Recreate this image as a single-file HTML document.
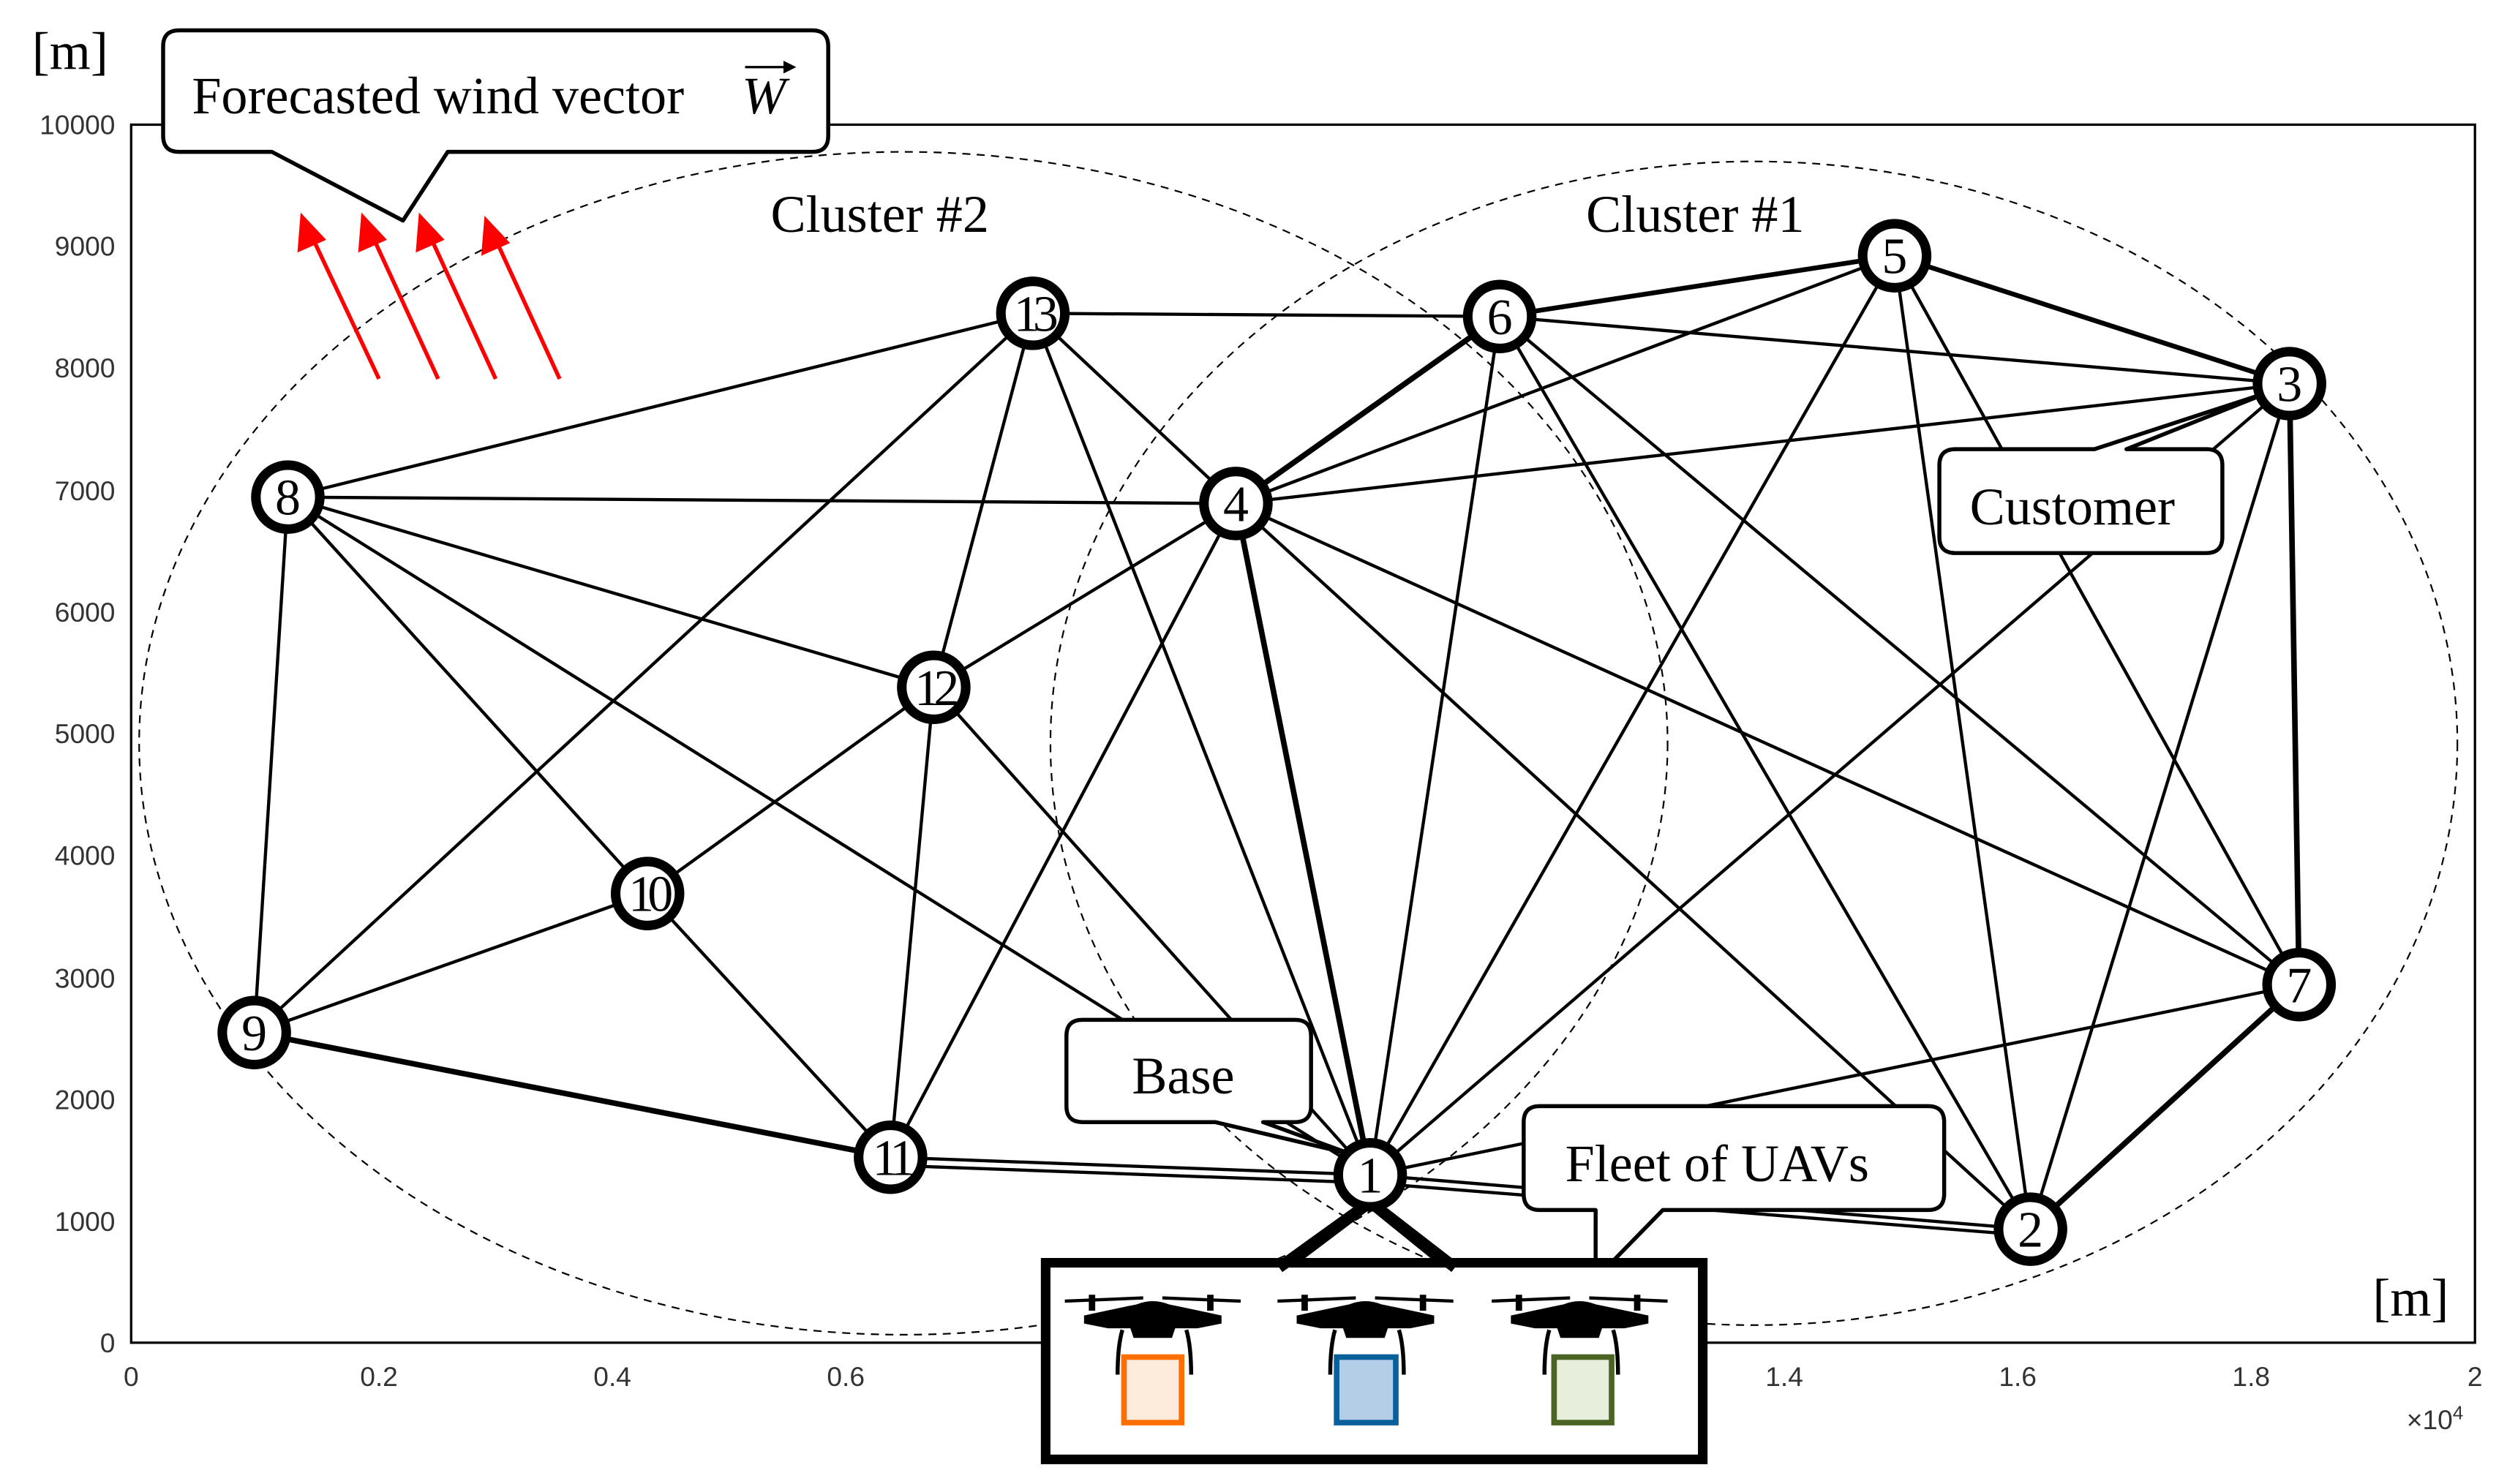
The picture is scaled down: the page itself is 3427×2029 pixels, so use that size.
<!DOCTYPE html>
<html><head><meta charset="utf-8"><style>html,body{margin:0;padding:0;background:#fff}svg{display:block}</style></head><body>
<svg xmlns="http://www.w3.org/2000/svg" width="3427" height="2029" viewBox="0 0 1568 928.4" font-family="'Liberation Serif',serif">
<defs>
<g id="d">
<path d="M-55,-1 L-6,-3 L-6,-1 L-55,1 Z M55,-1 L6,-3 L6,-1 L55,1 Z" fill="#000"/>
<rect x="-40" y="-4" width="4" height="10" fill="#000"/><rect x="34" y="-4" width="4" height="10" fill="#000"/>
<path d="M-43,9 Q-20,4 -10,2 Q0,-2 10,2 Q20,4 43,9 L43,14 L28,17 L14,17 L12,23 L-12,23 L-14,17 L-28,17 L-43,14 Z" fill="#000"/>
<path d="M-19,18 Q-22,28 -22,46 M21,18 Q24,28 24,46" stroke="#000" stroke-width="2.5" fill="none"/>
</g>
</defs>
<rect width="1568" height="929" fill="#fff"/>
<rect x="82" y="78" width="1466" height="762" fill="none" stroke="#000" stroke-width="1.5"/>
<g font-family="'Liberation Sans',sans-serif" font-size="17" fill="#333" text-anchor="end">
<text x="72" y="846">0</text><text x="72" y="770">1000</text><text x="72" y="694">2000</text><text x="72" y="618">3000</text><text x="72" y="541">4000</text><text x="72" y="465">5000</text><text x="72" y="389">6000</text><text x="72" y="313">7000</text><text x="72" y="236">8000</text><text x="72" y="160">9000</text><text x="72" y="84">10000</text>
</g>
<g font-family="'Liberation Sans',sans-serif" font-size="17" fill="#333" text-anchor="middle">
<text x="82" y="867">0</text><text x="237" y="867">0.2</text><text x="383" y="867">0.4</text><text x="529" y="867">0.6</text><text x="1116" y="867">1.4</text><text x="1262" y="867">1.6</text><text x="1408" y="867">1.8</text><text x="1548" y="867">2</text>
<text x="1523" y="894">×10<tspan font-size="12" dy="-6">4</tspan></text>
</g>
<g stroke="#000" stroke-width="1" fill="none" stroke-dasharray="5,4">
<ellipse cx="565" cy="465" rx="478" ry="370"/>
<ellipse cx="1097" cy="465" rx="440" ry="364"/>
</g>
<text x="20" y="43" font-size="33">[m]</text>
<text x="1484" y="823" font-size="33">[m]</text>
<text x="482" y="145" font-size="33">Cluster #2</text>
<text x="992" y="145" font-size="33">Cluster #1</text>
<g stroke="#000" stroke-width="2" fill="none">
<line x1="857" y1="735" x2="773" y2="315" stroke-width="3.5"/>
<line x1="857" y1="735" x2="938" y2="198"/>
<line x1="857" y1="735" x2="1185" y2="160"/>
<line x1="857" y1="735" x2="1432" y2="240"/>
<line x1="857" y1="735" x2="1438" y2="616"/>
<line x1="857" y1="735" x2="1270" y2="769"/>
<line x1="857" y1="740" x2="1270" y2="773"/>
<line x1="857" y1="735" x2="557" y2="724"/>
<line x1="857" y1="740" x2="557" y2="729"/>
<line x1="857" y1="735" x2="646" y2="196"/>
<line x1="857" y1="735" x2="584" y2="430"/>
<line x1="857" y1="735" x2="180" y2="311"/>
<line x1="180" y1="311" x2="646" y2="196"/>
<line x1="180" y1="311" x2="773" y2="315"/>
<line x1="180" y1="311" x2="584" y2="430"/>
<line x1="180" y1="311" x2="405" y2="559"/>
<line x1="180" y1="311" x2="159" y2="646"/>
<line x1="646" y1="196" x2="938" y2="198"/>
<line x1="646" y1="196" x2="773" y2="315"/>
<line x1="646" y1="196" x2="584" y2="430"/>
<line x1="646" y1="196" x2="159" y2="646"/>
<line x1="773" y1="315" x2="938" y2="198" stroke-width="3.5"/>
<line x1="773" y1="315" x2="1185" y2="160"/>
<line x1="773" y1="315" x2="1432" y2="240"/>
<line x1="773" y1="315" x2="584" y2="430"/>
<line x1="773" y1="315" x2="557" y2="724"/>
<line x1="773" y1="315" x2="1438" y2="616"/>
<line x1="773" y1="315" x2="1270" y2="769"/>
<line x1="938" y1="198" x2="1185" y2="160" stroke-width="3"/>
<line x1="938" y1="198" x2="1432" y2="240"/>
<line x1="938" y1="198" x2="1438" y2="616"/>
<line x1="938" y1="198" x2="1270" y2="769"/>
<line x1="1185" y1="160" x2="1432" y2="240" stroke-width="3"/>
<line x1="1185" y1="160" x2="1270" y2="769"/>
<line x1="1185" y1="160" x2="1438" y2="616"/>
<line x1="1432" y1="240" x2="1438" y2="616" stroke-width="3.5"/>
<line x1="1432" y1="240" x2="1270" y2="769"/>
<line x1="1438" y1="616" x2="1270" y2="769" stroke-width="3.5"/>
<line x1="584" y1="430" x2="405" y2="559"/>
<line x1="584" y1="430" x2="557" y2="724"/>
<line x1="405" y1="559" x2="159" y2="646"/>
<line x1="405" y1="559" x2="557" y2="724"/>
<line x1="159" y1="646" x2="557" y2="724" stroke-width="3.5"/>
</g>
<g stroke="#f00" stroke-width="2.5" fill="#f00">
<line x1="237" y1="237" x2="196" y2="150"/><polygon points="188,133 186,158 204,150" stroke="none"/>
<line x1="274" y1="237" x2="234" y2="150"/><polygon points="226,133 224,158 242,150" stroke="none"/>
<line x1="310" y1="237" x2="270" y2="150"/><polygon points="262,133 260,158 278,150" stroke="none"/>
<line x1="350" y1="237" x2="311" y2="152"/><polygon points="303,135 301,160 319,152" stroke="none"/>
</g>
<g fill="#fff" stroke="#000" stroke-width="2.5" stroke-linejoin="round">
<path d="M112,19 H508 Q518,19 518,29 V85 Q518,95 508,95 H280 L252,138 L170,95 H112 Q102,95 102,85 V29 Q102,19 112,19 Z"/>
<path d="M1223,281 H1310 L1420,245 L1330,281 H1380 Q1390,281 1390,291 V336 Q1390,346 1380,346 H1223 Q1213,346 1213,336 V291 Q1213,281 1223,281 Z"/>
<path d="M677,638 H810 Q820,638 820,648 V692 Q820,702 810,702 H790 L845,722 L760,702 H677 Q667,702 667,692 V648 Q667,638 677,638 Z"/>
<path d="M963,692 H1206 Q1216,692 1216,702 V747 Q1216,757 1206,757 H1040 L998,800 L998,757 H963 Q953,757 953,747 V702 Q953,692 963,692 Z"/>
</g>
<text x="120" y="71" font-size="33">Forecasted wind vector</text>
<text x="464" y="71" font-size="33" font-style="italic">W</text>
<line x1="466" y1="42" x2="494" y2="42" stroke="#000" stroke-width="1.5"/><polygon points="498,42 490,38 490,46" fill="#000"/>
<text x="1232" y="328" font-size="33">Customer</text>
<text x="708" y="684" font-size="33">Base</text>
<text x="979" y="739" font-size="33">Fleet of UAVs</text>
<path d="M800,795 L857,752 L910,795" fill="none" stroke="#000" stroke-width="7"/>
<rect x="654" y="790" width="411" height="123" fill="#fff" stroke="#000" stroke-width="6"/>
<path d="M800,793 L857,752 L910,793" fill="none" stroke="#000" stroke-width="7"/>
<use href="#d" x="721" y="814"/>
<use href="#d" x="854" y="814"/>
<use href="#d" x="988" y="814"/>
<rect x="703" y="849" width="36" height="41" fill="#fdebdb" stroke="#ff6f00" stroke-width="3.5"/>
<rect x="836" y="849" width="37" height="41" fill="#b3cee6" stroke="#09609a" stroke-width="3.5"/>
<rect x="972" y="849" width="36" height="41" fill="#e7efdc" stroke="#4a6424" stroke-width="3.5"/>
<g fill="#fff" stroke="#000" stroke-width="6">
<circle cx="857" cy="735" r="20"/><circle cx="1270" cy="769" r="20"/><circle cx="1432" cy="240" r="20"/><circle cx="773" cy="315" r="20"/><circle cx="1185" cy="160" r="20"/><circle cx="938" cy="198" r="20"/><circle cx="1438" cy="616" r="20"/><circle cx="180" cy="311" r="20"/><circle cx="159" cy="646" r="20"/><circle cx="405" cy="559" r="20"/><circle cx="557" cy="724" r="20"/><circle cx="584" cy="430" r="20"/><circle cx="646" cy="196" r="20"/>
</g>
<g font-size="32" text-anchor="middle">
<text x="857" y="746">1</text><text x="1270" y="780">2</text><text x="1432" y="251">3</text><text x="773" y="326">4</text><text x="1185" y="171">5</text><text x="938" y="209">6</text><text x="1438" y="627">7</text><text x="180" y="322">8</text><text x="159" y="657">9</text><text x="405" y="570" letter-spacing="-4">10</text><text x="557" y="735" letter-spacing="-4">11</text><text x="584" y="441" letter-spacing="-4">12</text><text x="646" y="207" letter-spacing="-4">13</text>
</g>
</svg>
</body></html>
